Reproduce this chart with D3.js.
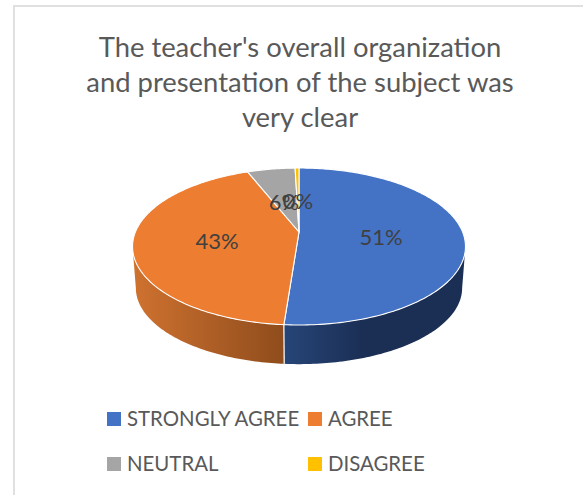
<!DOCTYPE html>
<html>
<head>
<meta charset="utf-8">
<script src="https://cdnjs.cloudflare.com/ajax/libs/d3/7.8.5/d3.min.js"></script>
<style>
    html, body { margin: 0; padding: 0; background: #fff; }
    svg { display: block; }
    text { font-family: Lato, "Open Sans", sans-serif; }
</style>
</head>
<body>
<div id="chart"></div>
<script>
const title_lines = ["The teacher's overall organization", "and presentation of the subject was", "very clear"];
const categories = ["STRONGLY AGREE", "AGREE", "NEUTRAL", "DISAGREE"];
const values = [51.2, 42.8, 5.55, 0.45];
const colors = ["#4472C4", "#ED7D31", "#A5A5A5", "#FFC000"];

const width = 583, height = 495;

const svg = d3.select("#chart")
    .append("svg")
    .attr("width", width)
    .attr("height", height);

// chart frame, only left and top show in the crop
svg.append("path")
    .attr("d", d3.line()([[14, height], [14, 6], [width, 6]]))
    .attr("fill", "none")
    .attr("stroke", "#e0e0e0")
    .attr("stroke-width", 2);

const defs = svg.append("defs");

const blueSide = defs.append("linearGradient").attr("id", "side-blue");
blueSide.append("stop").attr("offset", "0%").attr("stop-color", "#264577");
blueSide.append("stop").attr("offset", "45%").attr("stop-color", "#1b2e54");
blueSide.append("stop").attr("offset", "100%").attr("stop-color", "#1b2e54");

const orangeSide = defs.append("linearGradient").attr("id", "side-orange");
orangeSide.append("stop").attr("offset", "0%").attr("stop-color", "#cf7230");
orangeSide.append("stop").attr("offset", "100%").attr("stop-color", "#8f4c1c");

const pie = d3.pie().sort(null).value(function(d){ return d; });
const slices = pie(values);

// perspective of the tilted disc, the centre of the pie is not the centre of the ellipse
const cx = 299, cy = 232, k = -0.185, A = 163.6, B = 75.8;

function top_point(angle, r) {
    const u = r * Math.sin(angle), v = -r * Math.cos(angle), w = 1 + k * v;
    return [cx + A * u / w, cy + B * v / w];
}

function bottom_point(angle) {
    const p = top_point(angle, 1);
    return [cx + (p[0] - cx) * 0.98, 288 + (p[1] - 246.5) * 0.97];
}

function arc_points(a0, a1, fn) {
    const n = Math.max(2, Math.ceil(Math.abs(a1 - a0) * 60));
    return d3.range(n + 1).map(function(i){ return fn(a0 + (a1 - a0) * i / n); });
}

const line = d3.line();
const right_edge = Math.acos(k), left_edge = 2 * Math.PI - Math.acos(k);

/* Side wall */
const sides = [
    {from: right_edge, to: slices[0].endAngle, fill: "url(#side-blue)"},
    {from: slices[1].startAngle, to: left_edge, fill: "url(#side-orange)"}
];

svg.selectAll(".side")
    .data(sides)
    .enter().append("path")
    .attr("class", "side")
    .attr("d", function(d){
        const up = arc_points(d.from, d.to, function(a){ return top_point(a, 1); });
        const down = arc_points(d.to, d.from, bottom_point);
        return line(up.concat(down)) + "Z";
    })
    .attr("fill", function(d){ return d.fill; });

// seam between the two walls
svg.append("path")
    .attr("d", line([top_point(slices[0].endAngle, 1), bottom_point(slices[0].endAngle)]))
    .attr("stroke", "#fff")
    .attr("stroke-width", 1.2);

/* Top of the disc */
svg.selectAll(".slice")
    .data(slices)
    .enter().append("path")
    .attr("class", "slice")
    .attr("d", function(d){
        const rim = arc_points(d.startAngle, d.endAngle, function(a){ return top_point(a, 1); });
        return line([[cx, cy]].concat(rim)) + "Z";
    })
    .attr("fill", function(d, i){ return colors[i]; })
    .attr("stroke", "#fff")
    .attr("stroke-width", 1.1)
    .attr("stroke-linejoin", "round");

/* Value labels */
svg.selectAll(".value-label")
    .data(slices)
    .enter().append("text")
    .attr("class", "value-label")
    .attr("x", function(d){ return top_point((d.startAngle + d.endAngle) / 2, 0.5)[0]; })
    .attr("y", function(d){ return top_point((d.startAngle + d.endAngle) / 2, 0.5)[1] + 4; })
    .attr("dy", "0.35em")
    .attr("text-anchor", "middle")
    .attr("font-size", 22)
    .attr("fill", "#404040")
    .text(function(d){ return Math.round(d.value) + "%"; });

/* Title */
svg.selectAll(".title-line")
    .data(title_lines)
    .enter().append("text")
    .attr("class", "title-line")
    .attr("x", 300)
    .attr("y", function(d, i){ return 57 + i * 35; })
    .attr("text-anchor", "middle")
    .attr("font-size", 27.4)
    .attr("fill", "#595959")
    .text(function(d){ return d; });

/* Legend */
const legend_x = d3.scaleOrdinal().domain([0, 1]).range([107, 308]);
const legend_y = d3.scaleOrdinal().domain([0, 1]).range([412, 457]);

const legend = svg.selectAll(".legend-item")
    .data(categories)
    .enter().append("g")
    .attr("class", "legend-item")
    .attr("transform", function(d, i){ return "translate(" + legend_x(i % 2) + "," + legend_y(Math.floor(i / 2)) + ")"; });

legend.append("rect")
    .attr("width", 14)
    .attr("height", 14)
    .attr("fill", function(d, i){ return colors[i]; });

legend.append("text")
    .attr("x", 20)
    .attr("y", 7)
    .attr("dy", "0.36em")
    .attr("font-size", 20.4)
    .attr("fill", "#595959")
    .text(function(d){ return d; });
</script>
</body>
</html>
